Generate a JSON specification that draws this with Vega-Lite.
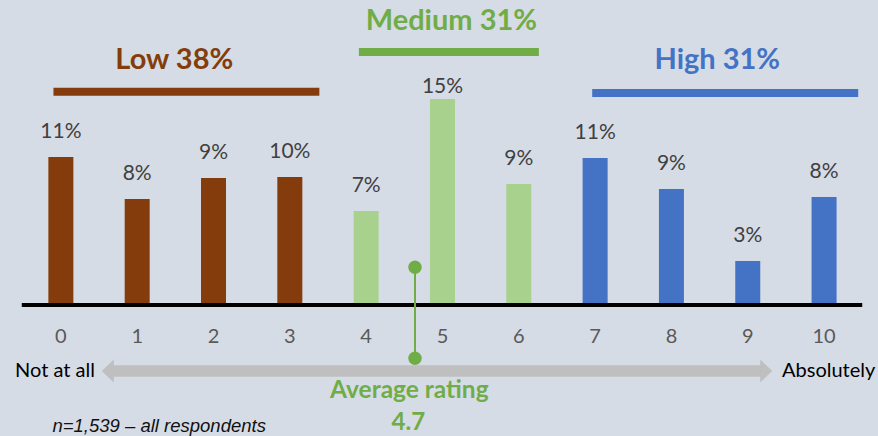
{
  "$schema": "https://vega.github.io/schema/vega-lite/v6.json",
  "width": 878,
  "height": 436,
  "autosize": {"type": "none"},
  "padding": 0,
  "background": "#D6DCE5",
  "config": {"view": {"stroke": null}, "axis": {"disable": true}, "legend": {"disable": true}},
  "resolve": {"scale": {"color": "independent"}},
  "datasets": {
    "bars": [
      {"rating": 0, "pct": 11.04, "label": "11%", "group": "Low"},
      {"rating": 1, "pct": 7.91, "label": "8%", "group": "Low"},
      {"rating": 2, "pct": 9.48, "label": "9%", "group": "Low"},
      {"rating": 3, "pct": 9.55, "label": "10%", "group": "Low"},
      {"rating": 4, "pct": 7.01, "label": "7%", "group": "Medium"},
      {"rating": 5, "pct": 15.37, "label": "15%", "group": "Medium"},
      {"rating": 6, "pct": 9.03, "label": "9%", "group": "Medium"},
      {"rating": 7, "pct": 10.97, "label": "11%", "group": "High"},
      {"rating": 8, "pct": 8.66, "label": "9%", "group": "High"},
      {"rating": 9, "pct": 3.28, "label": "3%", "group": "High"},
      {"rating": 10, "pct": 8.06, "label": "8%", "group": "High"}
    ]
  },
  "layer": [
    {
      "data": {"name": "bars"},
      "mark": {"type": "bar", "width": 25},
      "encoding": {
        "x": {"field": "rating", "type": "quantitative", "scale": {"domain": [-0.732, 10.641], "nice": false, "zero": false}, "axis": null},
        "y": {"field": "pct", "type": "quantitative", "scale": {"domain": [-9.78, 22.76], "nice": false, "zero": false}, "axis": null},
        "y2": {"datum": 0},
        "color": {"field": "group", "type": "nominal", "scale": {"domain": ["Low", "Medium", "High"], "range": ["#843C0C", "#A9D18E", "#4472C4"]}, "legend": null}
      }
    },
    {
      "data": {"name": "bars"},
      "transform": [{"filter": "datum.rating != 5"}],
      "mark": {"type": "text", "font": "Lato", "fontSize": 21, "color": "#404040", "baseline": "alphabetic", "dy": -19},
      "encoding": {
        "x": {"field": "rating", "type": "quantitative"},
        "y": {"field": "pct", "type": "quantitative"},
        "text": {"field": "label"}
      }
    },
    {
      "data": {"name": "bars"},
      "transform": [{"filter": "datum.rating == 5"}],
      "mark": {"type": "text", "font": "Lato", "fontSize": 21, "color": "#404040", "baseline": "alphabetic", "dy": -6},
      "encoding": {
        "x": {"field": "rating", "type": "quantitative"},
        "y": {"field": "pct", "type": "quantitative"},
        "text": {"field": "label"}
      }
    },
    {
      "data": {"name": "bars"},
      "mark": {"type": "text", "font": "Lato", "fontSize": 20, "color": "#595959", "baseline": "alphabetic"},
      "encoding": {
        "x": {"field": "rating", "type": "quantitative"},
        "y": {"datum": -2.84},
        "text": {"field": "rating"}
      }
    },
    {
      "data": {"values": [{}]},
      "mark": {"type": "rule", "color": "#000000", "strokeWidth": 4, "strokeCap": "butt"},
      "encoding": {"x": {"datum": -0.512}, "x2": {"datum": 10.5}, "y": {"datum": 0}}
    },
    {
      "data": {"values": [
        {"group": "Low", "from": -0.097, "to": 3.387, "level": 15.91},
        {"group": "Medium", "from": 3.905, "to": 6.263, "level": 18.88},
        {"group": "High", "from": 6.962, "to": 10.447, "level": 15.82}
      ]},
      "mark": {"type": "rule", "strokeWidth": 8, "strokeCap": "butt"},
      "encoding": {
        "x": {"field": "from", "type": "quantitative"},
        "x2": {"field": "to"},
        "y": {"field": "level", "type": "quantitative"},
        "color": {"field": "group", "type": "nominal", "scale": {"domain": ["Low", "Medium", "High"], "range": ["#843C0C", "#70AD47", "#4472C4"]}, "legend": null}
      }
    },
    {
      "data": {"values": [
        {"title": "Low 38%", "at": 1.486, "level": 17.61, "group": "Low"},
        {"title": "Medium 31%", "at": 5.117, "level": 20.52, "group": "Medium"},
        {"title": "High 31%", "at": 8.601, "level": 17.61, "group": "High"}
      ]},
      "mark": {"type": "text", "font": "Lato", "fontSize": 29, "fontWeight": "bold", "baseline": "alphabetic", "align": "center"},
      "encoding": {
        "x": {"field": "at", "type": "quantitative"},
        "y": {"field": "level", "type": "quantitative"},
        "text": {"field": "title"},
        "color": {"field": "group", "type": "nominal", "scale": {"domain": ["Low", "Medium", "High"], "range": ["#843C0C", "#70AD47", "#4472C4"]}, "legend": null}
      }
    },
    {
      "data": {"values": [{}]},
      "mark": {"type": "rule", "color": "#BFBFBF", "strokeWidth": 11.5, "strokeCap": "butt"},
      "encoding": {"x": {"datum": 0.615}, "x2": {"datum": 9.242}, "y": {"datum": -4.925}}
    },
    {
      "data": {"values": [{}]},
      "mark": {"type": "point", "filled": true, "opacity": 1, "color": "#BFBFBF", "size": 529, "shape": "M0.52,0L-0.52,-1L-0.52,1Z"},
      "encoding": {"x": {"datum": 9.242}, "y": {"datum": -4.925}}
    },
    {
      "data": {"values": [{}]},
      "mark": {"type": "point", "filled": true, "opacity": 1, "color": "#BFBFBF", "size": 529, "shape": "M-0.52,0L0.52,-1L0.52,1Z"},
      "encoding": {"x": {"datum": 0.615}, "y": {"datum": -4.925}}
    },
    {
      "data": {"values": [{"avg": 4.64}]},
      "mark": {"type": "rule", "color": "#70AD47", "strokeWidth": 2},
      "encoding": {"x": {"field": "avg", "type": "quantitative"}, "y": {"datum": 2.81}, "y2": {"datum": -3.98}}
    },
    {
      "data": {"values": [{"avg": 4.64, "end": 2.81}, {"avg": 4.64, "end": -3.98}]},
      "mark": {"type": "point", "filled": true, "opacity": 1, "color": "#70AD47", "size": 180, "shape": "circle"},
      "encoding": {"x": {"field": "avg", "type": "quantitative"}, "y": {"field": "end", "type": "quantitative"}}
    },
    {
      "data": {"values": [{"t": "Average rating"}]},
      "mark": {"type": "text", "font": "Lato", "fontSize": 24.5, "fontWeight": "bold", "color": "#70AD47", "baseline": "alphabetic", "align": "center"},
      "encoding": {"x": {"datum": 4.566}, "y": {"datum": -6.94}, "text": {"field": "t"}}
    },
    {
      "data": {"values": [{"t": "4.7"}]},
      "mark": {"type": "text", "font": "Lato", "fontSize": 24, "fontWeight": "bold", "color": "#70AD47", "baseline": "alphabetic", "align": "center"},
      "encoding": {"x": {"datum": 4.553}, "y": {"datum": -9.33}, "text": {"field": "t"}}
    },
    {
      "data": {"values": [{"t": "Not at all", "at": -0.6}, {"t": "Absolutely", "at": 9.449}]},
      "mark": {"type": "text", "font": "Lato", "fontSize": 20, "color": "#000000", "baseline": "alphabetic", "align": "left"},
      "encoding": {"x": {"field": "at", "type": "quantitative"}, "y": {"datum": -5.35}, "text": {"field": "t"}}
    },
    {
      "data": {"values": [{"t": "n=1,539 – all respondents"}]},
      "mark": {"type": "text", "font": "Liberation Sans", "fontSize": 18.5, "fontStyle": "italic", "color": "#111111", "baseline": "alphabetic", "align": "left"},
      "encoding": {"x": {"datum": -0.11}, "y": {"datum": -9.45}, "text": {"field": "t"}}
    }
  ]
}
